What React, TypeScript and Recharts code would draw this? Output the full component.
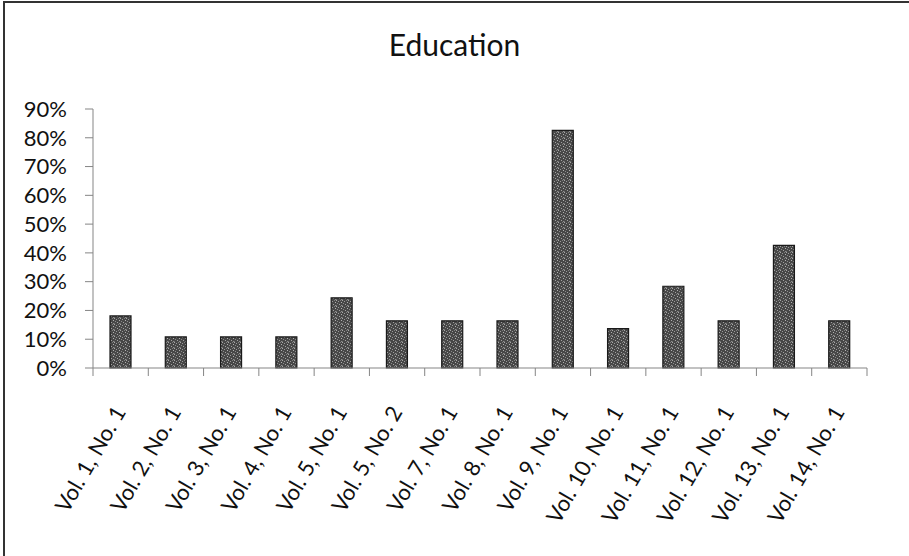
import { BarChart, Bar, XAxis, YAxis } from 'recharts';

const ISSUES = [
  'Vol. 1, No. 1', 'Vol. 2, No. 1', 'Vol. 3, No. 1', 'Vol. 4, No. 1',
  'Vol. 5, No. 1', 'Vol. 5, No. 2', 'Vol. 7, No. 1', 'Vol. 8, No. 1',
  'Vol. 9, No. 1', 'Vol. 10, No. 1', 'Vol. 11, No. 1', 'Vol. 12, No. 1',
  'Vol. 13, No. 1', 'Vol. 14, No. 1',
];

// share of articles on education, in percent
const EDUCATION_PCT = [
  18.1, 10.8, 10.8, 10.8, 24.4, 16.4, 16.4, 16.4, 82.6, 13.7, 28.4, 16.4, 42.6, 16.4,
];

const PCT_TICKS = [0, 10, 20, 30, 40, 50, 60, 70, 80, 90];

const FONT = 'Lato, "Open Sans", sans-serif';
const AXIS_GREY = '#858585';

// light specks scattered over the dark bar fill: [x, y, colour]
const SPECKS: [number, number, string][] = [
  [0, 0, '#a8a8a8'], [4, 0, '#7e7e7e'], [2, 1, '#9a9a9a'], [5, 2, '#b0b0b0'],
  [1, 3, '#8a8a8a'], [3, 4, '#a2a2a2'], [0, 5, '#6e6e6e'], [5, 5, '#8e8e8e'],
];

// each issue sits in the middle of its own unit-wide slot on a numeric x axis,
// so whole numbers mark the slot edges (tick marks) and halves the labels
const data = ISSUES.map((issue, i) => ({ issue, slot: i + 0.5, pct: EDUCATION_PCT[i] }));
const SLOT_TICKS = Array.from({ length: ISSUES.length * 2 + 1 }, (_, k) => k / 2);

document.documentElement.style.overflow = 'hidden';
document.body.style.margin = '0';
document.body.style.overflow = 'hidden';

function SlotTick({ x, y, payload }: any) {
  const v = payload.value as number;
  if (Number.isInteger(v)) {
    return <line x1={x} y1={y} x2={x} y2={y + 8} stroke={AXIS_GREY} />;
  }
  return (
    <g transform={`translate(${x + 6},${y + 44})`}>
      <text
        textAnchor="end"
        transform="rotate(-60)"
        fontSize={22}
        fontFamily={FONT}
        fill="#111"
      >
        {ISSUES[Math.floor(v)]}
      </text>
    </g>
  );
}

export default function App() {
  return (
    <div style={{ position: 'relative', width: 909, height: 556, background: '#fff', overflow: 'hidden' }}>
      <div
        style={{
          position: 'absolute',
          left: 3,
          top: 1,
          width: 930,
          height: 580,
          borderTop: '2px solid #333',
          borderLeft: '2px solid #333',
          boxSizing: 'border-box',
        }}
      />
      <div
        style={{
          position: 'absolute',
          left: 0,
          width: 909,
          top: 24,
          textAlign: 'center',
          fontFamily: FONT,
          fontSize: 30,
          lineHeight: '40px',
          color: '#111',
        }}
      >
        Education
      </div>
      <BarChart
        width={909}
        height={556}
        data={data}
        margin={{ top: 109, right: 42, bottom: 8, left: 0 }}
        style={{ position: 'absolute', left: 0, top: 0 }}
      >
        <defs>
          <pattern id="grain" width="6" height="6" patternUnits="userSpaceOnUse">
            <rect width="6" height="6" fill="#474747" />
            {SPECKS.map(([sx, sy, c]) => (
              <rect key={`${sx}-${sy}`} x={sx} y={sy} width="1" height="1" fill={c} />
            ))}
          </pattern>
        </defs>
        <XAxis
          type="number"
          dataKey="slot"
          domain={[0, ISSUES.length]}
          ticks={SLOT_TICKS}
          interval={0}
          height={180}
          axisLine={{ stroke: AXIS_GREY }}
          tickLine={false}
          tickSize={0}
          tickMargin={0}
          tick={<SlotTick />}
        />
        <YAxis
          domain={[0, 90]}
          ticks={PCT_TICKS}
          interval={0}
          width={93}
          tickFormatter={(v: number) => `${v}%`}
          tickSize={8}
          tickMargin={18}
          axisLine={{ stroke: AXIS_GREY }}
          tickLine={{ stroke: AXIS_GREY }}
          tick={{ fill: '#111', fontSize: 22, fontFamily: FONT }}
        />
        <Bar
          dataKey="pct"
          barSize={21}
          fill="url(#grain)"
          stroke="#1a1a1a"
          strokeWidth={1.2}
          isAnimationActive={false}
        />
      </BarChart>
    </div>
  );
}
